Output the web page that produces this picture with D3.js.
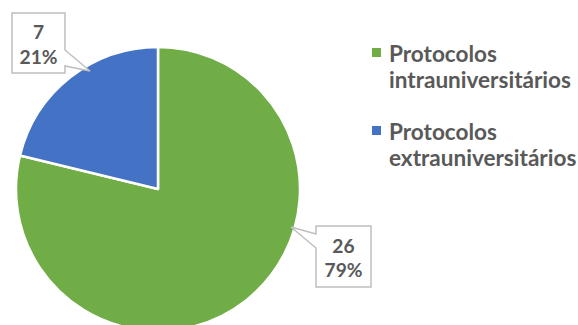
<!DOCTYPE html>
<html><head><meta charset="utf-8">
<script src="https://cdn.jsdelivr.net/npm/d3@7"></script>
<style>body{margin:0;background:#fff}svg{display:block}</style>
</head><body>
<script>
const categories = ["Protocolos intrauniversitários", "Protocolos extrauniversitários"];
const legendLines = [["Protocolos", "intrauniversitários"], ["Protocolos", "extrauniversitários"]];
const values = [26, 7];
const percentLabels = ["79%", "21%"];
const colors = ["#70AD47", "#4472C4"];

const W = 578, H = 325;
const svg = d3.select("body").append("svg").attr("width", W).attr("height", H);
const font = "Lato, 'Open Sans', sans-serif";
const textColor = "#595959";

const cx = 158, cy = 189, r = 142;
const pie = d3.pie().sort(null).value(d => d)(values);
const arc = d3.arc().innerRadius(0).outerRadius(r);
const g = svg.append("g").attr("transform", `translate(${cx},${cy})`);
g.selectAll("path").data(pie).join("path")
  .attr("d", arc).attr("fill", (d, i) => colors[i])
  .attr("stroke", "#fff").attr("stroke-width", 2.5).attr("stroke-linejoin", "round");

function fitSize(text, targetW, weight) {
  const t = svg.append("text").attr("font-family", font).attr("font-weight", weight).attr("font-size", 100).text(text);
  const w = t.node().getComputedTextLength();
  t.remove();
  return 100 * targetW / w;
}

const callouts = [
  { i: 0, box: [316, 226, 371, 287], tip: [291, 227], base: [[316, 234], [316, 248]], lines: [253, 277] },
  { i: 1, box: [12, 13, 65, 73], tip: [90, 71], base: [[65, 50], [65, 66]], lines: [39, 64] }
];
const labelSize = fitSize("79%", 38, 700);
callouts.forEach(c => {
  const [x0, y0, x1, y1] = c.box;
  let pts;
  if (c.i === 0) {
    pts = [[x0, y0], [x1, y0], [x1, y1], [x0, y1], c.base[1], c.tip, c.base[0]];
  } else {
    pts = [[x0, y0], [x1, y0], c.base[0], c.tip, c.base[1], [x1, y1], [x0, y1]];
  }
  svg.append("path").attr("d", d3.line()(pts) + "Z")
    .attr("fill", "#fff").attr("stroke", "#BFBFBF").attr("stroke-width", 1.5);
  const mx = (x0 + x1) / 2;
  [String(values[c.i]), percentLabels[c.i]].forEach((s, k) => {
    svg.append("text").attr("x", mx).attr("y", c.lines[k]).attr("text-anchor", "middle")
      .attr("font-family", font).attr("font-weight", 700).attr("font-size", labelSize)
      .attr("fill", textColor).text(s);
  });
});

const legSize = fitSize("intrauniversitários", 182, 700);
const legX = 389;
const legTop = [62, 140];
legendLines.forEach((lines, i) => {
  svg.append("rect").attr("x", 372).attr("y", legTop[i] - 14).attr("width", 9).attr("height", 9).attr("fill", colors[i]);
  lines.forEach((s, k) => {
    svg.append("text").attr("x", legX).attr("y", legTop[i] + k * 26)
      .attr("font-family", font).attr("font-weight", 700).attr("font-size", legSize)
      .attr("fill", textColor).text(s);
  });
});
</script>
</body></html>
